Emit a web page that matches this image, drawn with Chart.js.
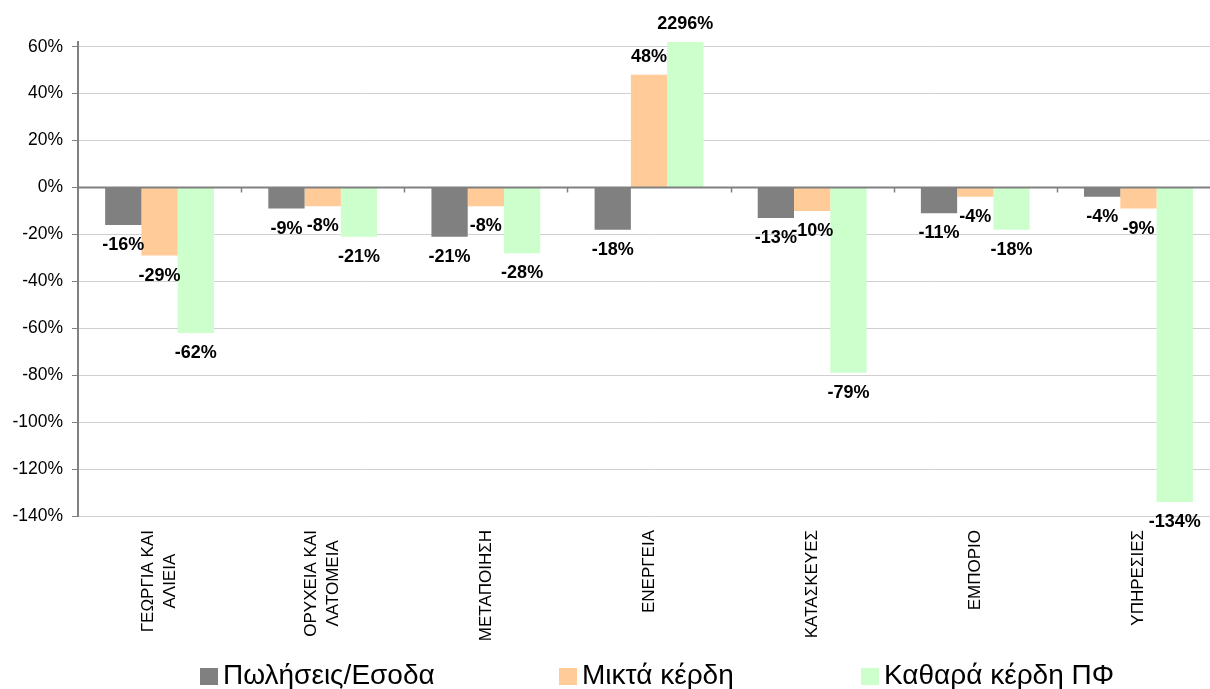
<!DOCTYPE html>
<html lang="el">
<head>
<meta charset="utf-8">
<title>Μεταβολή ανά κλάδο</title>
<script src="https://cdn.jsdelivr.net/npm/chart.js@4.4.1/dist/chart.umd.min.js"></script>
<style>
    html, body { margin: 0; padding: 0; background: #fff; overflow: hidden; }
    #wrap { position: relative; width: 1222px; height: 689px; }
    #legend { position: absolute; left: 0; top: 0; width: 1222px; height: 689px; pointer-events: none; }
    .lg-item { position: absolute; top: 661px; height: 28px; font: 28px Arial, "Liberation Sans", sans-serif; line-height: 28px; color: #000; white-space: nowrap; }
    .lg-box { position: absolute; top: 7px; left: 0; width: 18px; height: 17px; }
    .lg-text { position: absolute; left: 23px; top: 0; }
</style>
</head>
<body>
<div id="wrap">
    <canvas id="chart"></canvas>
    <div id="legend"></div>
</div>
<script>
// Κατηγορίες (κλάδοι)
const categories = [
    ['ΓΕΩΡΓΙΑ ΚΑΙ', 'ΑΛΙΕΙΑ'],
    ['ΟΡΥΧΕΙΑ ΚΑΙ', 'ΛΑΤΟΜΕΙΑ'],
    'ΜΕΤΑΠΟΙΗΣΗ',
    'ΕΝΕΡΓΕΙΑ',
    'ΚΑΤΑΣΚΕΥΕΣ',
    'ΕΜΠΟΡΙΟ',
    'ΥΠΗΡΕΣΙΕΣ'
];

// Σειρές (%)
const seriesNames = ['Πωλήσεις/Εσοδα', 'Μικτά κέρδη', 'Καθαρά κέρδη ΠΦ'];
const sales = [-16, -9, -21, -18, -13, -11, -4];
const grossProfit = [-29, -8, -8, 48, -10, -4, -9];
const netProfit = [-62, -21, -28, 2296, -79, -18, -134];

// Άξονας Υ
const yTicks = [-140, -120, -100, -80, -60, -40, -20, 0, 20, 40, 60];
const yMin = -140;
const yMax = 62;

const colors = ['#808080', '#FFCC99', '#CCFFCC'];
const legendLeft = [200, 559, 861];

const FONT = 'Arial, "Liberation Sans", sans-serif';
const AXIS_COLOR = '#808080';

// Ετικέτες τιμών πάνω/κάτω από κάθε ράβδο
const valueLabels = {
    id: 'valueLabels',
    afterDatasetsDraw(chart) {
        const ctx = chart.ctx;
        const area = chart.chartArea;
        const y0 = chart.scales.y.getPixelForValue(0);

        // γραμμή του μηδενός και υποδιαιρέσεις κατηγοριών
        ctx.save();
        ctx.strokeStyle = AXIS_COLOR;
        ctx.lineWidth = 2;
        ctx.beginPath();
        ctx.moveTo(area.left, y0);
        ctx.lineTo(area.right, y0);
        ctx.stroke();
        const xs = chart.scales.x;
        ctx.lineWidth = 1.5;
        for (let i = 1; i <= categories.length; i++) {
            const bx = (xs.getPixelForValue(i - 1) + xs.getPixelForValue(i)) / 2;
            const x = Math.round(bx) + 0.5;
            ctx.beginPath();
            ctx.moveTo(x, y0);
            ctx.lineTo(x, y0 + 5);
            ctx.stroke();
        }
        ctx.restore();

        ctx.save();
        ctx.font = 'bold 18px ' + FONT;
        ctx.fillStyle = '#000';
        ctx.textAlign = 'center';
        ctx.textBaseline = 'middle';
        chart.data.datasets.forEach((ds, di) => {
            const meta = chart.getDatasetMeta(di);
            meta.data.forEach((bar, i) => {
                const v = ds.data[i];
                let y = Math.max(area.top, Math.min(area.bottom, bar.y));
                y = v >= 0 ? y - 18 : y + 20;
                ctx.fillText(v + '%', bar.x, y);
            });
        });
        ctx.restore();
    }
};

// Ετικέτες κατηγοριών κάθετα, κεντραρισμένες
const categoryLabels = {
    id: 'categoryLabels',
    afterDraw(chart) {
        const ctx = chart.ctx;
        const xs = chart.scales.x;
        const top = chart.chartArea.bottom + 14;
        ctx.save();
        ctx.font = '17px ' + FONT;
        ctx.fillStyle = '#000';
        ctx.textBaseline = 'middle';
        ctx.textAlign = 'center';
        categories.forEach((c, i) => {
            const lines = Array.isArray(c) ? c : [c];
            const w = Math.max(...lines.map(l => ctx.measureText(l).width));
            ctx.save();
            ctx.translate(xs.getPixelForValue(i), top);
            ctx.rotate(-Math.PI / 2);
            lines.forEach((l, k) => {
                ctx.fillText(l, -w / 2, (k - (lines.length - 1) / 2) * 22);
            });
            ctx.restore();
        });
        ctx.restore();
    }
};

const ctx = document.getElementById('chart').getContext('2d');
const chart = new Chart(ctx, {
    type: 'bar',
    data: {
        labels: categories,
        datasets: [sales, grossProfit, netProfit].map((d, i) => ({
            label: seriesNames[i],
            data: d,
            backgroundColor: colors[i],
            borderWidth: 0,
            clip: 0,
            categoryPercentage: 0.667,
            barPercentage: 1
        }))
    },
    options: {
        responsive: true,
        maintainAspectRatio: false,
        animation: false,
        layout: { padding: { top: 42, right: 2, bottom: 0, left: 0 } },
        plugins: {
            legend: { display: false },
            tooltip: { enabled: false }
        },
        scales: {
            x: {
                grid: { display: false },
                border: { display: false },
                ticks: { display: false },
                afterFit: s => { s.height = 173; }
            },
            y: {
                min: yMin,
                max: yMax,
                afterBuildTicks: s => { s.ticks = yTicks.map(v => ({ value: v })); },
                afterFit: s => { s.width = 78; },
                border: { display: true, color: AXIS_COLOR, width: 2 },
                grid: {
                    color: c => (c.tick && c.tick.value === 0) ? AXIS_COLOR : '#d0d0d0',
                    lineWidth: 1,
                    tickColor: AXIS_COLOR,
                    tickLength: 6
                },
                ticks: {
                    padding: 9,
                    color: '#000',
                    font: { family: FONT, size: 17.5 },
                    callback: v => v + '%'
                }
            }
        }
    },
    plugins: [valueLabels, categoryLabels]
});

// Υπόμνημα
const legend = document.getElementById('legend');
chart.data.datasets.forEach((ds, i) => {
    const item = document.createElement('div');
    item.className = 'lg-item';
    item.style.left = legendLeft[i] + 'px';
    item.innerHTML = `<span class="lg-box" style="background:${ds.backgroundColor}"></span><span class="lg-text">${ds.label}</span>`;
    legend.appendChild(item);
});
</script>
</body>
</html>
